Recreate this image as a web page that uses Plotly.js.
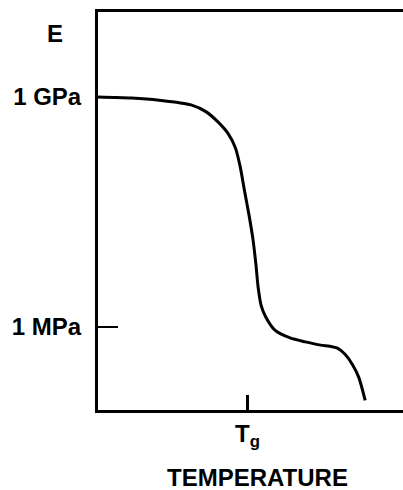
<!DOCTYPE html>
<html>
<head>
<meta charset="utf-8">
<script src="https://cdn.plot.ly/plotly-3.0.1.min.js"></script>
<style>html,body{margin:0;padding:0;background:#fff;overflow:hidden}#chart{width:403px;height:490px}</style>
</head>
<body>
<div id="chart"></div>
<script>
// Temperature (arbitrary units, 0-100) and modulus E (Pa)
const temperature = [0, 11, 20, 30.5, 35.5, 39.4, 42.5, 45, 46.5, 48, 49.5, 50.8, 51.8, 52.5, 53.5, 55, 58, 63, 68, 73, 76, 78.5, 81, 83.5, 85.5, 87.6];
const modulus = [1.0e9, 9.7e8, 9.1e8, 7.9e8, 6.4e8, 4.7e8, 3.4e8, 2.2e8, 1.3e8, 6.1e7, 2.9e7, 1.4e7, 6.4e6, 3.3e6, 1.9e6, 1.35e6, 9.1e5, 7.2e5, 6.4e5, 5.8e5, 5.6e5, 5.3e5, 4.4e5, 3.2e5, 2.2e5, 1.1e5];
const yTickVals = [1e9, 1e6];
const yTickText = ['1 GPa', '1 MPa'];
const xTickVals = [49];
const xTickText = ['T<sub>g</sub>'];

const font = {family: 'Arial, "Liberation Sans", sans-serif', size: 24, color: '#000', weight: 'bold'};

const trace = {
  x: temperature, y: modulus, mode: 'lines',
  line: {color: '#000', width: 3, shape: 'spline', smoothing: 0.8},
  hoverinfo: 'skip'
};

const layout = {
  width: 403, height: 490,
  margin: {l: 98, r: 0, t: 12, b: 80},
  paper_bgcolor: '#fff', plot_bgcolor: '#fff',
  showlegend: false,
  font: font,
  xaxis: {
    range: [0, 100], showgrid: false, zeroline: false,
    showline: true, linecolor: '#000', linewidth: 3, mirror: true,
    tickmode: 'array', tickvals: xTickVals, ticktext: xTickText,
    ticks: 'inside', ticklen: 15, tickwidth: 3, tickcolor: '#000',
    tickfont: font, ticklabelstandoff: 0
  },
  yaxis: {
    type: 'log', range: [4.917, 10.109], showgrid: false, zeroline: false,
    showline: true, linecolor: '#000', linewidth: 3,
    tickmode: 'array', tickvals: yTickVals, ticktext: yTickText,
    ticks: 'inside', ticklen: 20, tickwidth: 2.5, tickcolor: '#000',
    tickfont: font, ticklabelstandoff: 9
  },
  annotations: [
    {text: 'E', xref: 'paper', yref: 'paper', x: -0.14, y: 0.947, xanchor: 'center', yanchor: 'middle', showarrow: false, font: font},
    {text: 'TEMPERATURE', xref: 'paper', yref: 'paper', x: 0.524, y: -0.207, xanchor: 'center', yanchor: 'bottom', borderpad: 0, showarrow: false, font: font}
  ]
};

Plotly.newPlot('chart', [trace], layout, {displayModeBar: false, staticPlot: true});
</script>
</body>
</html>
